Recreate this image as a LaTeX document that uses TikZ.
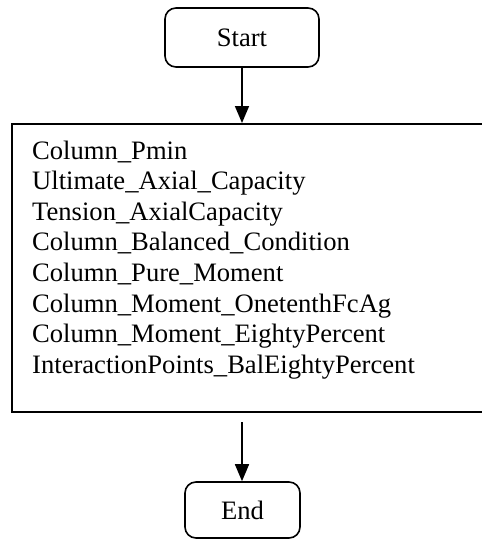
\documentclass[tikz,border=0pt]{standalone}
\usepackage{fontspec}
\setmainfont{Liberation Serif}
\usetikzlibrary{arrows.meta}
\begin{document}
\begin{tikzpicture}[x=1pt,y=1pt,
  term/.style={draw,line width=1.6pt,rounded corners=11pt,inner sep=0pt,font=\fontsize{26.6}{30.6}\selectfont},
  proc/.style={draw,line width=2pt,inner sep=0pt},
  flow/.style={line width=1.6pt,-{Triangle[width=14pt,length=17pt]}},
  txt/.style={font=\fontsize{26.6}{30.6}\selectfont,inner sep=0pt,align=left}]
\useasboundingbox (0,0) rectangle (482,-539);
\clip (0,0) rectangle (482,-539);
\node[term,minimum width=154pt,minimum height=59pt] (start) at (242,-37.5) {Start};
\node[proc,minimum width=500pt,minimum height=288pt] (box) at (262,-268) {};
\node[txt,anchor=base west] (list) at (32,-159) {Column\_Pmin};
\node[txt,anchor=base west] (l2) at (32,-189.6) {Ultimate\_Axial\_Capacity};
\node[txt,anchor=base west] (l3) at (32,-220.2) {Tension\_AxialCapacity};
\node[txt,anchor=base west] (l4) at (32,-250.8) {Column\_Balanced\_Condition};
\node[txt,anchor=base west] (l5) at (32,-281.4) {Column\_Pure\_Moment};
\node[txt,anchor=base west] (l6) at (32,-312) {Column\_Moment\_OnetenthFcAg};
\node[txt,anchor=base west] (l7) at (32,-342.6) {Column\_Moment\_EightyPercent};
\node[txt,anchor=base west] (l8) at (32,-373.2) {InteractionPoints\_BalEightyPercent};
\node[term,minimum width=115pt,minimum height=56pt] (end) at (242.5,-510) {End};
\coordinate (out) at (242,-422);
\draw[flow] (start.south) -- (start.south |- box.north);
\draw[flow] (out) -- (out |- end.north);
\end{tikzpicture}
\end{document}
